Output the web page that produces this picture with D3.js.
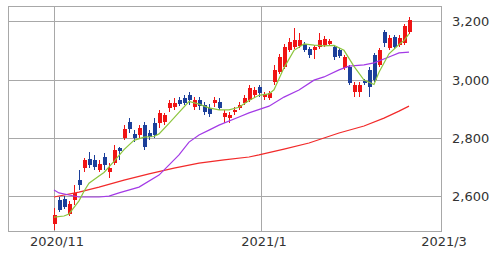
<!DOCTYPE html>
<html>
<head>
<meta charset="utf-8">
<script src="https://cdn.jsdelivr.net/npm/d3@7"></script>
<style>
    body { margin: 0; background: #fff; }
    text { font-family: "DejaVu Sans", sans-serif; font-size: 13px; fill: #333; }
</style>
</head>
<body>
<script>
// daily candles, one per trading day starting 2020/11/2
const opens = [
    2505, 2588, 2591, 2540, 2588, 2656, 2697, 2728, 2725, 2690,
    2735, 2684, 2714, 2766, 2800, 2855, 2814, 2810, 2844, 2817,
    2851, 2851, 2855, 2903, 2906, 2930, 2937, 2947, 2906, 2930,
    2913, 2903, 2920, 2923, 2872, 2868, 2889, 2903, 2920, 2930,
    2947, 2975, 2940, 2937, 2992, 3026, 3043, 3101, 3111, 3115,
    3122, 3105, 3101, 3111, 3118, 3122, 3111, 3101, 3040, 3043,
    2957, 2957, 2995, 3033, 3084, 3050, 3163, 3108, 3146, 3118,
    3125, 3163];
const highs = [
    2560, 2598, 2601, 2586, 2639, 2690, 2731, 2752, 2742, 2725,
    2749, 2714, 2776, 2769, 2844, 2868, 2827, 2844, 2855, 2827,
    2868, 2896, 2886, 2930, 2937, 2940, 2947, 2957, 2940, 2940,
    2923, 2916, 2940, 2937, 2896, 2889, 2906, 2923, 2947, 2981,
    2975, 2981, 2957, 2960, 3050, 3087, 3122, 3142, 3176, 3159,
    3129, 3111, 3118, 3159, 3149, 3139, 3118, 3108, 3084, 3050,
    2992, 2992, 3002, 3043, 3091, 3108, 3170, 3152, 3152, 3152,
    3190, 3214];
const lows = [
    2485, 2546, 2557, 2533, 2571, 2622, 2684, 2697, 2690, 2684,
    2690, 2663, 2707, 2725, 2793, 2817, 2786, 2800, 2759, 2793,
    2800, 2834, 2844, 2889, 2896, 2910, 2913, 2913, 2896, 2896,
    2879, 2872, 2906, 2896, 2851, 2851, 2879, 2896, 2913, 2923,
    2937, 2940, 2930, 2930, 2981, 3019, 3036, 3094, 3105, 3108,
    3094, 3074, 3070, 3105, 3111, 3115, 3067, 3074, 3033, 2981,
    2940, 2940, 2981, 2940, 2992, 3043, 3111, 3101, 3105, 3111,
    3118, 3156];
const closes = [
    2536, 2553, 2564, 2574, 2612, 2639, 2725, 2707, 2701, 2710,
    2707, 2697, 2759, 2755, 2831, 2831, 2800, 2834, 2769, 2803,
    2810, 2886, 2879, 2920, 2920, 2916, 2920, 2930, 2930, 2910,
    2889, 2882, 2930, 2903, 2886, 2879, 2896, 2913, 2937, 2971,
    2964, 2954, 2951, 2954, 3033, 3077, 3111, 3129, 3135, 3135,
    3101, 3084, 3111, 3135, 3139, 3132, 3077, 3081, 3077, 2988,
    2981, 2981, 2988, 2975, 2998, 3101, 3125, 3142, 3111, 3142,
    3183, 3204];

// moving averages (day index, value)
const maShortDays = [0, 2, 3, 5, 6, 7, 9, 10, 12, 14, 16, 18, 20, 21, 23, 25, 27, 29, 31, 33, 35, 37, 39, 41, 43, 44, 46, 48, 50, 52, 54, 56, 58, 60, 62, 64, 65, 67, 69, 70, 71];
const maShortVals = [2529, 2533, 2540, 2585, 2618, 2645, 2670, 2682, 2720, 2760, 2792, 2803, 2805, 2814, 2850, 2888, 2925, 2916, 2903, 2896, 2896, 2905, 2928, 2946, 2951, 2965, 3040, 3100, 3122, 3118, 3115, 3117, 3100, 3045, 2998, 2983, 3025, 3088, 3120, 3133, 3156];
const maMidDays = [0, 1, 3, 5, 9, 11, 13, 17, 21, 25, 27, 29, 31, 33, 37, 39, 43, 46, 49, 52, 54, 57, 59, 62, 64, 67, 69, 71];
const maMidVals = [2622, 2612, 2605, 2598, 2598, 2601, 2612, 2632, 2673, 2742, 2786, 2810, 2827, 2844, 2872, 2886, 2909, 2940, 2964, 2998, 3009, 3033, 3046, 3050, 3057, 3077, 3091, 3094];
const maLongDays = [0, 5, 9, 14, 19, 24, 29, 34, 39, 41, 46, 51, 57, 62, 66, 69, 71];
const maLongVals = [2598, 2615, 2632, 2656, 2677, 2697, 2714, 2725, 2735, 2742, 2762, 2783, 2817, 2841, 2868, 2892, 2909];

const priceTicks = [2600, 2800, 3000, 3200];
const dateLabels = ["2020/11", "2021/1", "2021/3"];
const dateDays = [0, 41.4, 77.4];

(function() {
    const width = 500;
    const height = 255;
    const left = 8, right = 441, top = 6.5, bottom = 231.5;

    let svg = d3.select("body").append("svg")
        .attr("width", width)
        .attr("height", height);

    let x = d3.scaleLinear().domain([-9.2, 77.4]).range([left, right]);
    let y = d3.scaleLinear().domain([2480, 3250]).range([bottom, top]);

    // grid
    svg.selectAll("line.hgrid")
        .data(priceTicks)
        .enter().append("line")
        .attr("x1", left).attr("x2", right)
        .attr("y1", d => Math.round(y(d)) + 0.5)
        .attr("y2", d => Math.round(y(d)) + 0.5)
        .style("stroke", "#a8a8a8");

    svg.selectAll("line.vgrid")
        .data(dateDays)
        .enter().append("line")
        .attr("x1", d => Math.round(x(d)) + 0.5)
        .attr("x2", d => Math.round(x(d)) + 0.5)
        .attr("y1", top).attr("y2", bottom)
        .style("stroke", "#a8a8a8");

    svg.append("rect")
        .attr("x", left + 0.5).attr("y", top)
        .attr("width", right - left).attr("height", bottom - top)
        .style("fill", "none")
        .style("stroke", "#a8a8a8");

    // candles
    let days = d3.range(opens.length);
    let candle = svg.append("g").selectAll("g")
        .data(days)
        .enter().append("g")
        .style("shape-rendering", "crispEdges");

    let col = i => closes[i] >= opens[i] ? "#f01414" : "#1c3f9a";

    candle.append("line")
        .attr("x1", i => Math.round(x(i)) + 0.5)
        .attr("x2", i => Math.round(x(i)) + 0.5)
        .attr("y1", i => y(highs[i]))
        .attr("y2", i => y(lows[i]))
        .style("stroke", col);

    candle.append("rect")
        .attr("x", i => Math.round(x(i)) - 1.5)
        .attr("width", 4)
        .attr("y", i => y(Math.max(opens[i], closes[i])))
        .attr("height", i => Math.max(1, Math.abs(y(opens[i]) - y(closes[i]))))
        .style("fill", col);

    // moving averages
    let line = d3.line()
        .x(d => x(d[0]))
        .y(d => y(d[1]));

    let averages = [
        [d3.zip(maLongDays, maLongVals), "#f22a2a"],
        [d3.zip(maMidDays, maMidVals), "#a33ae6"],
        [d3.zip(maShortDays, maShortVals), "#8cc63e"]
    ];

    averages.forEach(a => {
        svg.append("path")
            .attr("d", line(a[0]))
            .style("fill", "none")
            .style("stroke", a[1])
            .style("stroke-width", 1.2);
    });

    // labels
    svg.selectAll("text.price")
        .data(priceTicks)
        .enter().append("text")
        .attr("x", 452)
        .attr("y", d => y(d) + 5)
        .text(d3.format(","));

    svg.selectAll("text.date")
        .data(dateLabels)
        .enter().append("text")
        .attr("x", (d, i) => x(dateDays[i]) + 3)
        .attr("y", 246)
        .attr("text-anchor", "middle")
        .text(d => d);
})();
</script>
</body>
</html>
